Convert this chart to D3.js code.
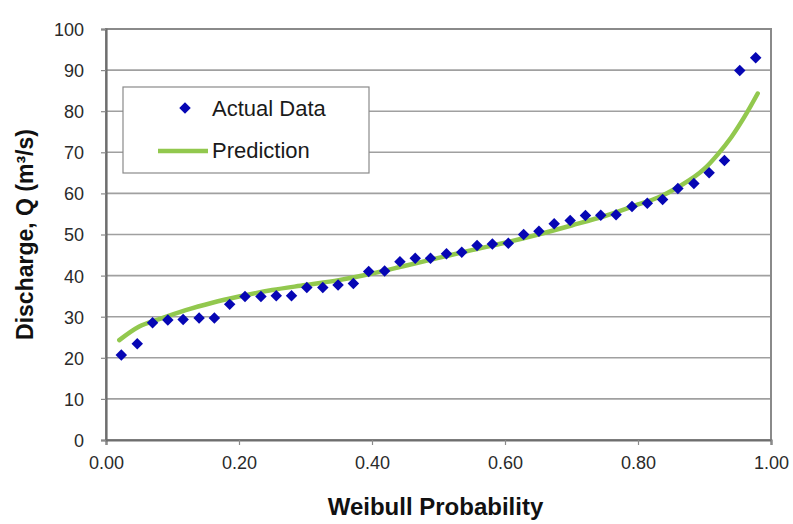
<!DOCTYPE html>
<html>
<head>
<meta charset="utf-8">
<script src="https://cdn.jsdelivr.net/npm/d3@7"></script>
<style>
  html, body { margin: 0; padding: 0; background: #fff; }
  svg { display: block; font-family: "Liberation Sans", Arial, sans-serif; }
</style>
</head>
<body>
<svg id="chart" width="793" height="524"></svg>
<script>
// Observed flows ranked by Weibull plotting position
const probability = [0.023, 0.047, 0.070, 0.093, 0.116, 0.140, 0.163, 0.186, 0.209, 0.233,
                     0.256, 0.279, 0.302, 0.326, 0.349, 0.372, 0.395, 0.419, 0.442, 0.465,
                     0.488, 0.512, 0.535, 0.558, 0.581, 0.605, 0.628, 0.651, 0.674, 0.698,
                     0.721, 0.744, 0.767, 0.791, 0.814, 0.837, 0.860, 0.884, 0.907, 0.930,
                     0.953, 0.977];
const discharge = [20.7, 23.4, 28.5, 29.2, 29.3, 29.7, 29.7, 33.0, 34.9, 34.9,
                   35.1, 35.1, 37.1, 37.1, 37.7, 38.1, 41.0, 41.1, 43.4, 44.2,
                   44.2, 45.3, 45.7, 47.3, 47.7, 47.9, 50.0, 50.8, 52.6, 53.4,
                   54.6, 54.7, 54.8, 56.8, 57.6, 58.5, 61.2, 62.4, 65.0, 68.0,
                   89.9, 93.0];

// Fitted distribution curve
const predProb = [0.02, 0.05, 0.08, 0.12, 0.16, 0.20, 0.25, 0.30, 0.35, 0.40,
                  0.45, 0.50, 0.55, 0.60, 0.65, 0.70, 0.75, 0.80, 0.83, 0.86,
                  0.90, 0.92, 0.94, 0.96, 0.98];
const predQ = [24.3, 27.6, 29.4, 31.6, 33.4, 34.9, 36.5, 37.7, 38.9, 40.5,
               42.4, 44.3, 46.2, 48.0, 50.0, 52.2, 54.5, 57.3, 59.0, 61.5,
               66.0, 69.5, 73.6, 78.6, 84.3];

const xTicks = [0, 0.2, 0.4, 0.6, 0.8, 1.0];
const yTicks = [0, 10, 20, 30, 40, 50, 60, 70, 80, 90, 100];
const seriesNames = ["Actual Data", "Prediction"];

const svg = d3.select("#chart");
const plot = { left: 106, right: 771, top: 29, bottom: 440 };

const x = d3.scaleLinear().domain([0, 1]).range([plot.left, plot.right]);
const y = d3.scaleLinear().domain([0, 100]).range([plot.bottom, plot.top]);

const gridColor = "#a0a0a0";
const frameColor = "#8a8a8a";
const markColor = "#0606b4";
const lineColor = "#92c84e";

// Horizontal gridlines
svg.append("g")
  .selectAll("line")
  .data(yTicks.filter(d => d > 0 && d < 100))
  .join("line")
  .attr("x1", plot.left).attr("x2", plot.right)
  .attr("y1", d => y(d)).attr("y2", d => y(d))
  .attr("stroke", gridColor).attr("stroke-width", 1.6);

// Plot frame
svg.append("rect")
  .attr("x", plot.left).attr("y", plot.top)
  .attr("width", plot.right - plot.left).attr("height", plot.bottom - plot.top)
  .attr("fill", "none").attr("stroke", frameColor).attr("stroke-width", 2);

// Axes
const xAxis = svg.append("g")
  .attr("transform", `translate(0,${plot.bottom})`)
  .call(d3.axisBottom(x).tickValues(xTicks).tickFormat(d3.format(".2f")).tickSizeOuter(0).tickSize(5).tickPadding(11));
const yAxis = svg.append("g")
  .attr("transform", `translate(${plot.left},0)`)
  .call(d3.axisLeft(y).tickValues(yTicks).tickSizeOuter(0).tickSize(5).tickPadding(17));

[xAxis, yAxis].forEach(g => {
  g.select(".domain").attr("stroke", "#6e6e6e").attr("stroke-width", 2.2);
  g.selectAll(".tick line").attr("stroke", "#8a8a8a").attr("stroke-width", 1.2);
  g.selectAll(".tick text")
    .attr("fill", "#2a2a2a")
    .style("font-family", "'Liberation Sans', Arial, sans-serif")
    .style("font-size", "18px");
});
yAxis.selectAll(".tick text").attr("dy", "0.36em");

// Prediction curve
const line = d3.line()
  .x(d => x(d[0]))
  .y(d => y(d[1]))
  .curve(d3.curveMonotoneX);
svg.append("path")
  .datum(d3.zip(predProb, predQ))
  .attr("d", line)
  .attr("fill", "none")
  .attr("stroke", lineColor)
  .attr("stroke-width", 4.5)
  .attr("stroke-linecap", "round");

// Observed points as diamonds
const diamond = d3.symbol().type(d3.symbolSquare).size(66);
svg.append("g")
  .selectAll("path")
  .data(d3.zip(probability, discharge))
  .join("path")
  .attr("d", diamond)
  .attr("transform", d => `translate(${x(d[0])},${y(d[1])}) rotate(45)`)
  .attr("fill", markColor);

// Legend
const legend = svg.append("g");
legend.append("rect")
  .attr("x", 123).attr("y", 87).attr("width", 246).attr("height", 86)
  .attr("fill", "#fff").attr("stroke", "#8a8a8a").attr("stroke-width", 1.2);
legend.append("path")
  .attr("d", diamond)
  .attr("transform", "translate(185,108) rotate(45)")
  .attr("fill", markColor);
legend.append("line")
  .attr("x1", 158).attr("x2", 208).attr("y1", 151).attr("y2", 151)
  .attr("stroke", lineColor).attr("stroke-width", 4.5);
legend.selectAll("text")
  .data(seriesNames)
  .join("text")
  .attr("x", 212)
  .attr("y", (d, i) => 116 + i * 42)
  .attr("fill", "#1a1a1a")
  .style("font-size", "22px")
  .text(d => d);

// Axis titles
svg.append("text")
  .attr("x", (plot.left + plot.right) / 2 - 3)
  .attr("y", 515)
  .attr("text-anchor", "middle")
  .attr("fill", "#111")
  .style("font-weight", "bold")
  .style("font-size", "24px")
  .text("Weibull Probability");

svg.append("text")
  .attr("transform", `translate(33,${(plot.top + plot.bottom) / 2}) rotate(-90)`)
  .attr("text-anchor", "middle")
  .attr("fill", "#111")
  .style("font-weight", "bold")
  .style("font-size", "23px")
  .text("Discharge, Q (m³/s)");
</script>
</body>
</html>
